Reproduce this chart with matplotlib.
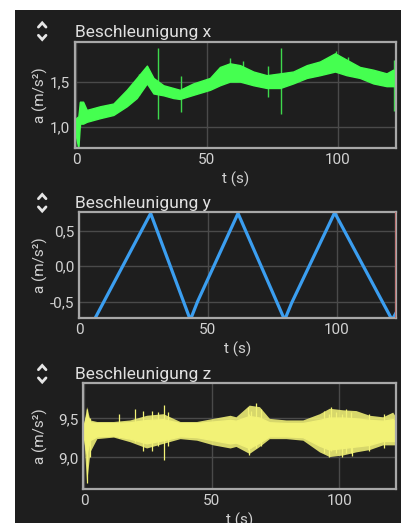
import matplotlib
matplotlib.use("Agg")
import matplotlib.pyplot as plt
from matplotlib.patches import Rectangle
from matplotlib.lines import Line2D

plt.rcParams['font.family'] = ['Roboto', 'DejaVu Sans']

# ---------------- data ----------------
# Panel x: band envelope (lower / upper) of the noisy signal
tx = [0.0, 0.9, 1.5, 2.7, 4.1, 9.2, 14.3, 19.4, 23.2, 27.1, 29.6, 33.4, 37.2, 39.7,
      44.8, 51.2, 55.0, 58.8, 62.7, 67.8, 72.9, 78.0, 83.0, 88.2, 93.2, 99.0,
      103.4, 108.5, 113.6, 118.7, 121.2, 122.5]
x_lo = [0.90, 0.77, 1.04, 1.04, 1.06, 1.10, 1.135, 1.23, 1.32, 1.48, 1.37, 1.35, 1.32, 1.31,
        1.355, 1.41, 1.46, 1.50, 1.50, 1.46, 1.43, 1.43, 1.48, 1.54, 1.57, 1.61,
        1.57, 1.54, 1.48, 1.45, 1.45, 1.45]
x_hi = [1.10, 1.12, 1.28, 1.28, 1.19, 1.23, 1.26, 1.41, 1.54, 1.675, 1.54, 1.46, 1.43, 1.41,
        1.48, 1.54, 1.66, 1.70, 1.68, 1.61, 1.57, 1.59, 1.61, 1.68, 1.72, 1.81,
        1.74, 1.66, 1.63, 1.59, 1.63, 1.60]
# isolated spikes in x: (time, low, high)
x_spk_t = [31.4, 40.3, 73.3, 78.2, 121.6, 1.5, 58.8, 99.5, 24.0, 64.0, 104.0]
x_spk_lo = [1.09, 1.17, 1.33, 1.15, 1.18, 1.00, 1.55, 1.65, 1.35, 1.52, 1.58]
x_spk_hi = [1.87, 1.56, 1.67, 1.87, 1.74, 1.28, 1.76, 1.84, 1.58, 1.72, 1.77]

# Panel y: triangle-shaped signal
ty = [4.5, 5.9, 27.8, 43.2, 46.0, 61.7, 79.8, 82.5, 99.2, 121.5, 123.0]
yv = [-0.86, -0.76, 0.75, -0.76, -0.50, 0.75, -0.76, -0.52, 0.76, -0.76, -0.66]

# Panel z: outer (sparse) envelope and dense core
tz = [0.0, 1.0, 2.3, 5.0, 11.5, 18.0, 24.5, 31.0, 37.6, 44.1, 50.6, 57.2, 59.5,
      64.7, 68.7, 72.6, 79.1, 85.7, 92.2, 96.1, 101.3, 106.5, 111.8, 117.0, 120.9, 122.5]
z_lo = [9.20, 8.67, 9.07, 9.24, 9.26, 9.20, 9.12, 9.18, 9.24, 9.22, 9.16, 9.12, 9.14,
        9.05, 9.14, 9.24, 9.24, 9.22, 9.07, 9.01, 9.03, 9.07, 9.10, 9.16, 9.16, 9.16]
z_hi = [9.45, 9.65, 9.48, 9.46, 9.46, 9.48, 9.54, 9.56, 9.46, 9.46, 9.50, 9.54, 9.52,
        9.67, 9.65, 9.50, 9.48, 9.48, 9.56, 9.63, 9.61, 9.60, 9.54, 9.52, 9.58, 9.50]
zc_lo = [9.24, 9.05, 9.22, 9.27, 9.28, 9.24, 9.18, 9.22, 9.27, 9.26, 9.22, 9.18, 9.19,
         9.12, 9.19, 9.27, 9.27, 9.26, 9.15, 9.10, 9.12, 9.14, 9.16, 9.21, 9.21, 9.21]
zc_hi = [9.43, 9.55, 9.45, 9.44, 9.44, 9.45, 9.48, 9.49, 9.44, 9.44, 9.46, 9.48, 9.47,
         9.53, 9.51, 9.45, 9.44, 9.44, 9.48, 9.51, 9.51, 9.50, 9.48, 9.47, 9.49, 9.45]
z_spk_t = [1.0, 2.3, 13.7, 20.0, 23.2, 26.5, 29.1, 31.3, 33.0, 64.1, 64.7, 65.4, 67.4, 69.3,
           94.1, 96.0, 96.7, 98.7, 101.0, 102.6, 104.5, 105.0, 111.8, 117.6]
z_spk_lo = [8.67, 9.00, 9.25, 9.20, 9.08, 9.08, 9.15, 8.97, 9.15, 9.10, 9.03, 9.12, 9.12, 9.15,
            9.05, 9.00, 9.08, 9.05, 9.00, 9.05, 9.05, 9.02, 9.08, 9.12]
z_spk_hi = [9.62, 9.50, 9.55, 9.62, 9.60, 9.60, 9.58, 9.67, 9.58, 9.64, 9.55, 9.60, 9.70, 9.62,
            9.60, 9.55, 9.64, 9.58, 9.55, 9.62, 9.58, 9.50, 9.56, 9.56]

titles = ["Beschleunigung x", "Beschleunigung y", "Beschleunigung z"]
xticks = [0, 50, 100]
xticklabels = ["0", "50", "100"]
yticks_list = [[1.0, 1.5], [-0.5, 0.0, 0.5], [9.0, 9.5]]
yticklabels_list = [["1,0", "1,5"], ["-0,5", "0,0", "0,5"], ["9,0", "9,5"]]
xlabel = "t (s)"
ylabel = "a (m/s²)"

# ---------------- layout ----------------
W, H = 401, 523
BG = '#1e1e1e'
TXT = '#d2d2d2'
GRID = '#4a4a4a'
SPINE = '#a8a8a8'

fig = plt.figure(figsize=(W / 100, H / 100), dpi=100, facecolor='white')
fig.patches.append(Rectangle((15 / W, 0), 1 - 15 / W, 1 - 10 / H, transform=fig.transFigure,
                             facecolor=BG, edgecolor='none', zorder=-10))

# (left, right, top, bottom) in pixels
boxes = [(74.7, 396, 42.3, 148.3), (79, 396, 212.3, 318.3), (83.3, 395.5, 383.3, 489.3)]
xlims = [(-0.5, 122.3), (0.0, 123.0), (-0.3, 122.0)]
ylims = [(0.77, 1.93), (-0.737, 0.765), (8.59, 9.95)]
baselines = [36.7, 208.3, 379.3]

axes = []
for i, (l, r, t, b) in enumerate(boxes):
    ax = fig.add_axes([l / W, 1 - b / H, (r - l) / W, (b - t) / H])
    ax.set_zorder(1)
    ax.set_facecolor(BG)
    ax.set_xlim(*xlims[i])
    ax.set_ylim(*ylims[i])
    ax.set_xticks(xticks)
    ax.set_xticklabels(xticklabels)
    ax.set_yticks(yticks_list[i])
    ax.set_yticklabels(yticklabels_list[i])
    ax.tick_params(length=0, colors=TXT, labelsize=11, pad=3.5)
    ax.grid(True, color=GRID, lw=1.0)
    ax.set_axisbelow(True)
    for s in ax.spines.values():
        s.set_color(SPINE)
        s.set_linewidth(1.6)
        s.set_zorder(5)
    ax.set_xlabel(xlabel, color=TXT, fontsize=11)
    ax.xaxis.label.set_va('center')
    ax.xaxis.set_label_coords(0.5, -30.7 / (b - t))
    ax.set_ylabel(ylabel, color=TXT, fontsize=11)
    ax.yaxis.label.set_va('center')
    ax.yaxis.set_label_coords((40 - l) / (r - l), 0.5)
    # title
    fig.text(75 / W, 1 - baselines[i] / H, titles[i], color='#e0e0e0', fontsize=12.5,
             ha='left', va='baseline', zorder=3)
    # up/down chevrons
    bl = baselines[i]
    cx = 42.2
    up = [(cx - 3.8, bl - 9.6), (cx, bl - 13.8), (cx + 3.8, bl - 9.6)]
    dn = [(cx - 3.8, bl - 1.4), (cx, bl + 2.8), (cx + 3.8, bl - 1.4)]
    for pts in (up, dn):
        fig.lines.append(Line2D([p[0] / W for p in pts], [1 - p[1] / H for p in pts],
                                transform=fig.transFigure, color='#e6e6e6', lw=2.0, zorder=3,
                                solid_capstyle='round', solid_joinstyle='miter'))
    axes.append(ax)

# Panel x
ax = axes[0]
GREEN = '#45ff50'
ax.fill_between(tx, x_lo, x_hi, color=GREEN, lw=1.0, edgecolor=GREEN, zorder=3)
ax.vlines(x_spk_t, x_spk_lo, x_spk_hi, color='#3ed84c', lw=1.0, zorder=2)

# Panel y
ax = axes[1]
ax.plot(ty, yv, color='#3b9ef0', lw=2.3, zorder=3)
ax.axvline(xlims[1][1] - 0.15, color='#c46a6a', lw=1.2, zorder=6)

# Panel z
ax = axes[2]
YEL = '#f2f276'
ax.fill_between(tz, z_lo, z_hi, color=YEL, alpha=0.88, lw=0, zorder=2)
ax.fill_between(tz, zc_lo, zc_hi, color=YEL, lw=1.0, edgecolor=YEL, zorder=3)
ax.vlines(z_spk_t, z_spk_lo, z_spk_hi, color=YEL, lw=0.9, zorder=3)

fig.savefig("out.png", dpi=100, facecolor='white')
